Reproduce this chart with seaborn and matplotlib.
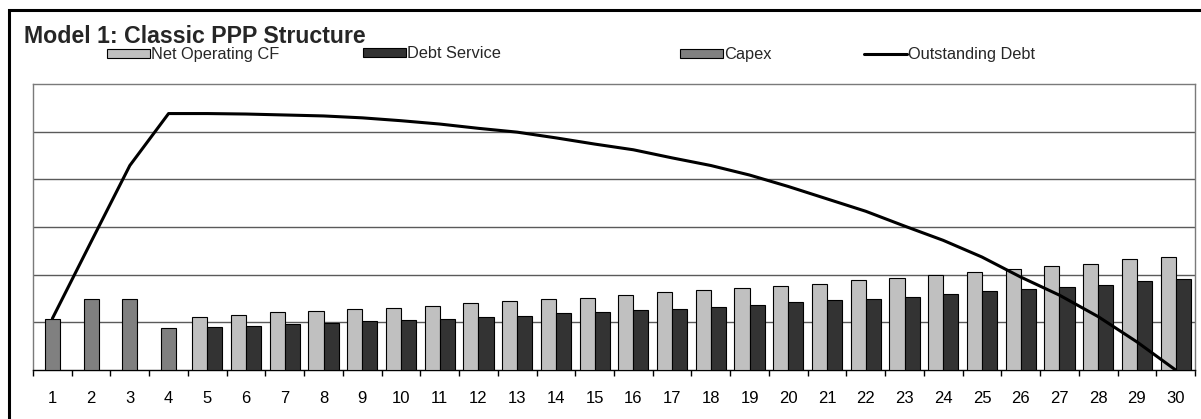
import numpy as np
import pandas as pd
import matplotlib
matplotlib.use("Agg")
import matplotlib.pyplot as plt
from matplotlib.patches import Patch, Rectangle
from matplotlib.lines import Line2D
import seaborn as sns

# ---------------- data ----------------
years = [str(i) for i in range(1, 31)]
capex_years = ["1", "2", "3", "4"]
capex = [1.08, 1.48, 1.48, 0.89]
ops_years = [str(i) for i in range(5, 31)]
net_operating_cf = [1.12, 1.16, 1.21, 1.24, 1.27, 1.31, 1.35, 1.40, 1.44, 1.48,
                    1.52, 1.58, 1.63, 1.67, 1.72, 1.77, 1.81, 1.88, 1.93, 2.00,
                    2.05, 2.11, 2.18, 2.23, 2.32, 2.38]
debt_service = [0.91, 0.93, 0.96, 0.98, 1.03, 1.05, 1.08, 1.12, 1.14, 1.19,
                1.22, 1.25, 1.29, 1.33, 1.37, 1.42, 1.46, 1.50, 1.54, 1.60,
                1.65, 1.69, 1.74, 1.79, 1.86, 1.90]
outstanding_debt = [1.08, 2.69, 4.29, 5.38, 5.38, 5.37, 5.35, 5.33, 5.29, 5.23,
                    5.16, 5.07, 4.99, 4.87, 4.74, 4.62, 4.45, 4.29, 4.09, 3.85,
                    3.59, 3.33, 3.02, 2.72, 2.37, 1.95, 1.57, 1.12, 0.59, 0.00]
series_names = ["Net Operating CF", "Debt Service", "Capex", "Outstanding Debt"]
title = "Model 1: Classic PPP Structure"

colors = {"Net Operating CF": "#C0C0C0", "Debt Service": "#333333",
          "Capex": "#808080", "Outstanding Debt": "#000000"}

# ---------------- style ----------------
sns.set_style("white")
plt.rcParams["font.family"] = ["Liberation Sans", "DejaVu Sans"]

W, H = 1201, 419
fig = plt.figure(figsize=(W / 100, H / 100), dpi=100)
ax = fig.add_axes([33 / W, 1 - 370 / H, (1195 - 33) / W, (370 - 84) / H])

ops = pd.DataFrame({
    "year": ops_years * 2,
    "series": [series_names[0]] * len(ops_years) + [series_names[1]] * len(ops_years),
    "value": net_operating_cf + debt_service,
})
cap = pd.DataFrame({"year": capex_years, "value": capex})

sns.barplot(data=ops, x="year", y="value", hue="series", order=years,
            hue_order=series_names[:2], palette=colors, width=0.78,
            saturation=1, edgecolor="black", linewidth=0.8, errorbar=None,
            legend=False, ax=ax, zorder=3)
sns.barplot(data=cap, x="year", y="value", order=years, color=colors["Capex"],
            width=0.39, saturation=1, edgecolor="black", linewidth=0.8,
            errorbar=None, ax=ax, zorder=3)
sns.lineplot(x=np.arange(len(years)), y=outstanding_debt, color="black",
             linewidth=2.2, ax=ax, zorder=4)

ax.set_xlim(-0.5, len(years) - 0.5)
ax.set_ylim(0, 6)
ax.set_xlabel("")
ax.set_ylabel("")
ax.set_yticks([1, 2, 3, 4, 5])
ax.set_yticklabels([])
ax.tick_params(axis="y", length=0)
ax.grid(axis="y", color="#5a5a5a", linewidth=1.0, zorder=0)
ax.set_axisbelow(True)

ax.set_xticks(np.arange(len(years)))
ax.set_xticklabels(years)
ax.set_xticks(np.arange(-0.5, len(years)), minor=True)
ax.tick_params(axis="x", which="major", length=0, pad=15, labelsize=12,
               colors="black")
ax.tick_params(axis="x", which="minor", length=4, width=1, color="black",
               direction="out", bottom=True)

for s in ["top", "left", "right"]:
    ax.spines[s].set_color("#7a7a7a")
    ax.spines[s].set_linewidth(1.0)
ax.spines["bottom"].set_color("black")
ax.spines["bottom"].set_linewidth(1.0)

# title
fig.text(24 / W, 1 - 43 / H, title, fontsize=16.7, fontweight="bold",
         ha="left", va="baseline")

# legend entries
handles = [
    Patch(facecolor=colors["Net Operating CF"], edgecolor="black", linewidth=0.8),
    Patch(facecolor=colors["Debt Service"], edgecolor="black", linewidth=0.8),
    Patch(facecolor=colors["Capex"], edgecolor="black", linewidth=0.8),
    Line2D([], [], color="black", linewidth=2.2),
]
xs = [107, 363, 680, 864]
ys = [55, 53.5, 55, 55]
for h, name, x0, y0 in zip(handles, series_names, xs, ys):
    fig.legend([h], [name], loc="center left", bbox_to_anchor=(x0 / W, 1 - y0 / H),
               frameon=False, borderpad=0, borderaxespad=0, handletextpad=0.05,
               handlelength=2.65, handleheight=0.45, fontsize=11.8)

# outer border
fig.add_artist(Rectangle((9 / W, -0.1), 1.2, 1.1 - 10 / H,
                         transform=fig.transFigure, fill=False,
                         edgecolor="black", linewidth=2.2))

fig.savefig("out.png", dpi=100)
